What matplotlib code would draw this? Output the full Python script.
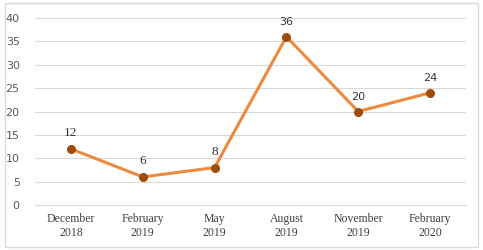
import matplotlib
matplotlib.use("Agg")
import matplotlib.pyplot as plt
from matplotlib.patches import Rectangle

# data
periods = ["December\n2018", "February\n2019", "May\n2019", "August\n2019",
           "November\n2019", "February\n2020"]
counts = [12, 6, 8, 36, 20, 24]
y_ticks = [0, 5, 10, 15, 20, 25, 30, 35, 40]

line_color = "#ED8A3E"
marker_color = "#9E4C0C"

fig = plt.figure(figsize=(4.83, 2.5), dpi=100)
fig.patches.append(Rectangle((0.010, 0.012), 0.980, 0.976, transform=fig.transFigure,
                             fill=False, edgecolor="#D9D9D9", linewidth=1))

ax = fig.add_axes([35 / 483, 0.18, (466 - 35) / 483, 0.748])
x = list(range(len(periods)))
ax.plot(x, counts, color=line_color, linewidth=2.2, marker="o", markersize=5.5,
        markerfacecolor=marker_color, markeredgecolor=marker_color, zorder=3)

# data labels: left three look serif, right three sans
for i, v in enumerate(counts):
    fam = "Liberation Serif" if i < 3 else "DejaVu Sans"
    size = 9.5 if i < 3 else 8
    ax.annotate(str(v), (i, v), xytext=(0, 7), textcoords="offset points",
                ha="center", va="bottom", fontsize=size, family=fam, color="#333333")

ax.set_xlim(-0.5, len(periods) - 0.5)
ax.set_ylim(0, 40)
ax.set_yticks(y_ticks)
ax.set_xticks(x)
ax.set_xticklabels(periods, family="Liberation Serif", fontsize=8.5, color="#404040",
                   linespacing=1.15)
for lab in ax.get_yticklabels():
    lab.set_fontsize(8)
    lab.set_color("#595959")
ax.tick_params(axis="both", length=0)
ax.tick_params(axis="y", pad=11)
ax.tick_params(axis="x", pad=6)
ax.grid(axis="y", color="#D9D9D9", linewidth=0.8)
ax.set_axisbelow(True)
for s in ["top", "right", "left"]:
    ax.spines[s].set_visible(False)
ax.spines["bottom"].set_color("#D9D9D9")
ax.spines["bottom"].set_linewidth(0.8)

plt.savefig("out.png", dpi=100)
